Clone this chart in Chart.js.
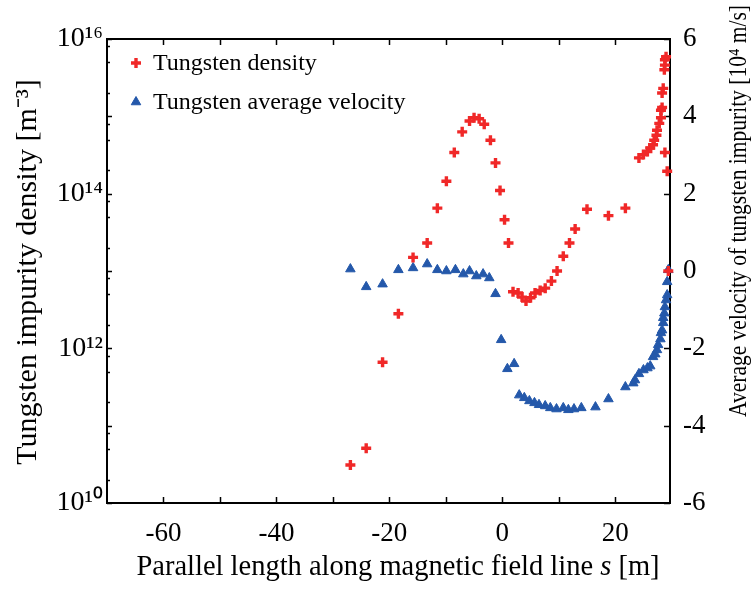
<!DOCTYPE html>
<html>
<head>
<meta charset="utf-8">
<script src="https://cdn.jsdelivr.net/npm/chart.js@4"></script>
<style>
  html, body { margin: 0; padding: 0; background: #fff; }
</style>
</head>
<body>
<canvas id="chart" width="755" height="590"></canvas>
<script>
// 텅스텐 밀도 (s [m], density [m^-3])
const densityS = [-26.9, -24.1, -21.2, -18.4, -15.8, -13.3, -11.5, -9.9, -8.5, -7.1,
  -5.8, -5.0, -4.1, -3.2, -2.1, -1.2, -0.4, 0.4, 1.1, 1.9,
  2.8, 3.5, 4.2, 5.0, 5.8, 6.7, 7.6, 8.7, 9.7, 10.8,
  11.9, 12.9, 15.0, 18.8, 21.8, 24.2, 25.0, 25.7, 26.2, 26.7,
  26.9, 27.3, 27.4, 27.8, 28.1, 28.1, 28.3, 28.3, 28.5, 28.7,
  28.8, 28.8, 29.0, 28.8, 29.2, 29.4];
const densityN = [3.1e10, 5.1e10, 6.6e11, 2.8e12, 1.5e13, 2.3e13, 6.5e13, 1.45e14, 3.4e14, 6.3e14,
  8.7e14, 9.6e14, 9.3e14, 7.9e14, 4.9e14, 2.5e14, 1.1e14, 4.6e13, 2.3e13, 5.4e12,
  5.2e12, 4.6e12, 4.1e12, 4.5e12, 5.2e12, 5.6e12, 6.0e12, 7.4e12, 1.0e13, 1.55e13,
  2.3e13, 3.5e13, 6.3e13, 5.2e13, 6.5e13, 2.9e14, 3.2e14, 3.5e14, 3.9e14, 4.3e14,
  4.9e14, 5.7e14, 6.6e14, 8.1e14, 9.6e14, 1.2e15, 1.3e15, 2.0e15, 2.3e15, 4.0e15,
  4.6e15, 5.4e15, 5.9e15, 3.4e14, 1.95e14, 1.0e13];

// 평균 속도 (s [m], velocity [10^4 m/s])
const velocityS = [-26.9, -24.1, -21.2, -18.4, -15.8, -13.3, -11.5, -9.9, -8.3, -6.9,
  -5.8, -4.6, -3.4, -2.3, -1.2, -0.2, 0.9, 2.1, 3.0, 3.9,
  4.8, 5.7, 6.5, 7.6, 8.5, 9.6, 10.8, 11.7, 12.7, 14.0,
  16.5, 18.8, 21.8, 23.2, 23.5, 24.2, 25.0, 25.7, 26.2, 26.7,
  27.1, 27.4, 27.6, 28.0, 28.1, 28.3, 28.5, 28.5, 28.7, 28.8,
  29.0, 29.2, 29.2, 29.4];
const velocityV = [0.05, -0.41, -0.34, 0.03, 0.08, 0.18, 0.03, 0.0, 0.03, -0.08,
  0.0, -0.13, -0.08, -0.18, -0.59, -1.78, -2.53, -2.40, -3.21, -3.28,
  -3.36, -3.41, -3.46, -3.49, -3.54, -3.57, -3.54, -3.59, -3.57, -3.54,
  -3.52, -3.31, -3.00, -2.90, -2.82, -2.66, -2.56, -2.51, -2.46, -2.22,
  -2.15, -2.04, -1.91, -1.76, -1.60, -1.53, -1.34, -1.21, -1.09, -0.93,
  -0.75, -0.62, -0.28, 0.03];

// 축 눈금
const xTicks = [-60, -50, -40, -30, -20, -10, 0, 10, 20];
const xLabelTicks = [-60, -40, -20, 0, 20];
const densityLabelTicks = [1e10, 1e12, 1e14, 1e16];
const densityDecades = [1e10, 1e11, 1e12, 1e13, 1e14, 1e15, 1e16];
const densityMinorSteps = [2, 5, 8];

const FONT = '"Liberation Serif", "Times New Roman", serif';
const RED = "rgb(240, 40, 40)";
const BLUE = "rgb(36, 88, 170)";
const SUP = { "0": "\u2070", "1": "\u00b9", "2": "\u00b2", "3": "\u00b3", "4": "\u2074", "6": "\u2076" };

function sup(str) {
  return str.split("").map((c) => SUP[c] || c).join("");
}

// 안쪽 눈금 + 테두리
const frame = {
  id: "frame",
  beforeDatasetsDraw(chart) {
    const { ctx, chartArea: a, scales } = chart;
    ctx.save();
    ctx.strokeStyle = "#000";
    ctx.lineWidth = 1.5;
    ctx.beginPath();
    scales.x.ticks.forEach((t) => {
      const px = Math.round(scales.x.getPixelForValue(t.value)) + 0.5;
      ctx.moveTo(px, a.bottom);
      ctx.lineTo(px, a.bottom - 6);
      ctx.moveTo(px, a.top);
      ctx.lineTo(px, a.top + 6);
    });
    scales.y.ticks.forEach((t) => {
      const py = Math.round(scales.y.getPixelForValue(t.value)) + 0.5;
      const len = t.major ? 5 : 3;
      ctx.moveTo(a.left, py);
      ctx.lineTo(a.left + len, py);
    });
    scales.y1.ticks.forEach((t) => {
      const py = Math.round(scales.y1.getPixelForValue(t.value)) + 0.5;
      ctx.moveTo(a.right, py);
      ctx.lineTo(a.right - 6, py);
    });
    ctx.stroke();
    ctx.lineWidth = 2;
    ctx.strokeRect(a.left, a.top, a.right - a.left, a.bottom - a.top);
    ctx.restore();
  },
};

// 범례 + 축 제목
const labels = {
  id: "labels",
  afterDraw(chart) {
    const { ctx } = chart;
    ctx.save();
    ctx.fillStyle = "#000";
    ctx.textBaseline = "middle";

    // legend
    const rows = [
      { y: 63, ds: chart.data.datasets[0] },
      { y: 102, ds: chart.data.datasets[1] },
    ];
    rows.forEach((r) => {
      ctx.save();
      ctx.fillStyle = r.ds.backgroundColor;
      ctx.strokeStyle = r.ds.borderColor;
      ctx.lineWidth = r.ds.borderWidth;
      Chart.helpers.drawPoint(ctx, {
        pointStyle: r.ds.pointStyle,
        radius: r.ds.pointRadius,
        borderWidth: r.ds.borderWidth,
        rotation: 0,
      }, 136, r.y);
      ctx.restore();
      ctx.font = "24px " + FONT;
      ctx.textAlign = "left";
      ctx.fillText(r.ds.label, 153, r.y + 1);
    });

    // x title, s 는 이탤릭
    const xa = "Parallel length along magnetic field line ";
    const xb = "s";
    const xc = " [m]";
    ctx.font = "28.5px " + FONT;
    const wa = ctx.measureText(xa).width;
    const wc = ctx.measureText(xc).width;
    ctx.font = "italic 28.5px " + FONT;
    const wb = ctx.measureText(xb).width;
    let x0 = 398 - (wa + wb + wc) / 2;
    ctx.textAlign = "left";
    ctx.textBaseline = "alphabetic";
    ctx.font = "28.5px " + FONT;
    ctx.fillText(xa, x0, 575);
    ctx.font = "italic 28.5px " + FONT;
    ctx.fillText(xb, x0 + wa, 575);
    ctx.font = "28.5px " + FONT;
    ctx.fillText(xc, x0 + wa + wb, 575);

    // left title
    ctx.save();
    ctx.translate(28, 272);
    ctx.rotate(-Math.PI / 2);
    ctx.textAlign = "center";
    ctx.textBaseline = "middle";
    ctx.font = "30px " + FONT;
    ctx.fillText("Tungsten impurity density [m" + "\u207b" + sup("3") + "]", 0, 0);
    ctx.restore();

    // right title (글자 폭을 살짝 줄임)
    const rightTitle = "Average velocity of tungsten impurity [10" + sup("4") + " m/s]";
    ctx.save();
    ctx.font = "25px " + FONT;
    const rw = ctx.measureText(rightTitle).width;
    ctx.translate(739, 211);
    ctx.rotate(-Math.PI / 2);
    ctx.scale(412 / rw, 1);
    ctx.textAlign = "center";
    ctx.textBaseline = "middle";
    ctx.fillText(rightTitle, 0, 0);
    ctx.restore();

    ctx.restore();
  },
};

Chart.defaults.font.family = FONT;
Chart.defaults.color = "#000";

const chart = document.getElementById("chart").getContext("2d");
new Chart(chart, {
  type: "scatter",
  data: {
    datasets: [
      {
        label: "Tungsten density",
        data: densityS.map((s, i) => ({ x: s, y: densityN[i] })),
        yAxisID: "y",
        pointStyle: "cross",
        pointRadius: 5,
        borderWidth: 3.4,
        borderColor: RED,
        backgroundColor: RED,
        clip: false,
      },
      {
        label: "Tungsten average velocity",
        data: velocityS.map((s, i) => ({ x: s, y: velocityV[i] })),
        yAxisID: "y1",
        pointStyle: "triangle",
        pointRadius: 5.5,
        borderWidth: 1,
        borderColor: BLUE,
        backgroundColor: BLUE,
        clip: false,
      },
    ],
  },
  options: {
    responsive: false,
    animation: false,
    events: [],
    layout: { padding: { left: 0, top: 39, right: 0, bottom: 0 } },
    plugins: {
      legend: { display: false },
      tooltip: { enabled: false },
    },
    scales: {
      x: {
        type: "linear",
        position: "bottom",
        min: -70,
        max: 29.7,
        grid: { display: false, drawTicks: false },
        border: { display: false },
        afterBuildTicks: (scale) => {
          scale.ticks = xTicks.map((v) => ({ value: v }));
        },
        ticks: {
          padding: 15,
          maxRotation: 0,
          autoSkip: false,
          font: { size: 27 },
          callback: (v) => (xLabelTicks.includes(v) ? String(v) : ""),
        },
        afterFit: (scale) => { scale.height = 87; },
      },
      y: {
        type: "logarithmic",
        position: "left",
        min: 1e10,
        max: 1e16,
        grid: { display: false, drawTicks: false },
        border: { display: false },
        afterBuildTicks: (scale) => {
          const ticks = [];
          densityDecades.forEach((d) => {
            ticks.push({ value: d, major: true });
            densityMinorSteps.forEach((m) => {
              if (d * m < 1e16) ticks.push({ value: d * m, major: false });
            });
          });
          scale.ticks = ticks;
        },
        ticks: {
          padding: 4,
          autoSkip: false,
          font: { size: 28 },
          callback: (v) => {
            const e = Math.round(Math.log10(v));
            const hit = densityLabelTicks.some((t) => Math.abs(Math.log10(t) - Math.log10(v)) < 1e-6);
            return hit ? "10" + sup(String(e)) : "";
          },
        },
        afterFit: (scale) => { scale.width = 107; },
      },
      y1: {
        type: "linear",
        position: "right",
        min: -6,
        max: 6,
        grid: { display: false, drawTicks: false },
        border: { display: false },
        ticks: {
          stepSize: 2,
          padding: 13,
          font: { size: 27 },
        },
        afterFit: (scale) => { scale.width = 85; },
      },
    },
  },
  plugins: [frame, labels],
});
</script>
</body>
</html>
